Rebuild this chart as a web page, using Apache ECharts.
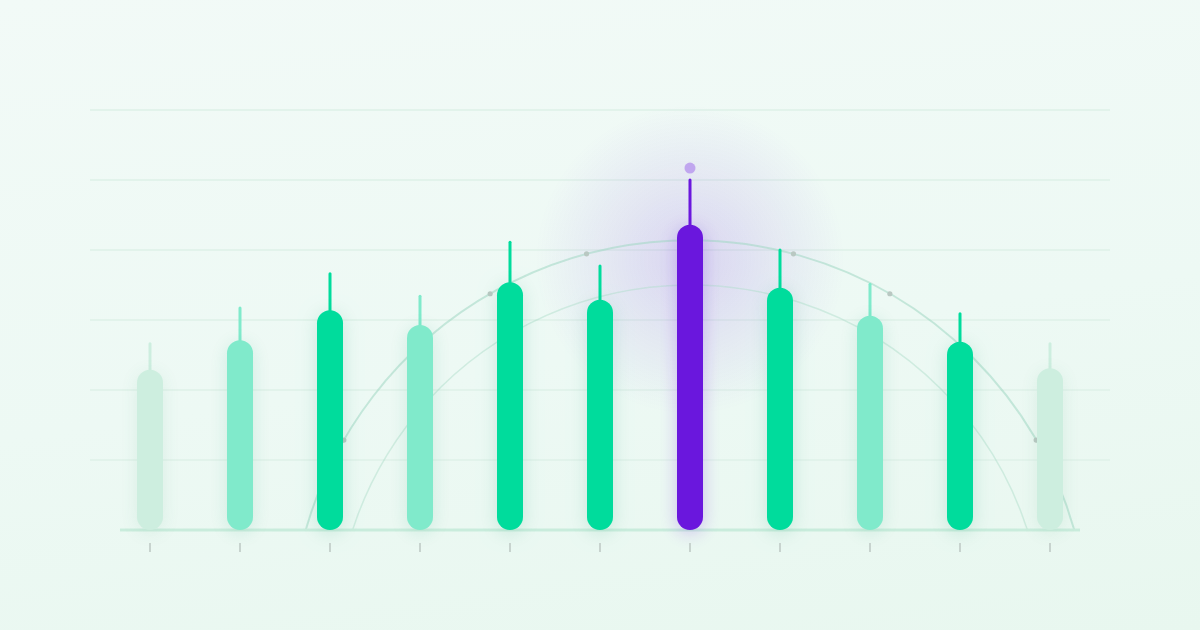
<!DOCTYPE html>
<html><head><meta charset="utf-8">
<style>
html,body{margin:0;padding:0;width:1200px;height:630px;overflow:hidden;background:linear-gradient(172deg,#f2faf7 0%,#edf9f4 55%,#e8f7ef 100%);}
#c{width:1200px;height:630px;}
</style>
<script src="https://cdn.jsdelivr.net/npm/echarts@6/dist/echarts.min.js"></script>
</head><body><div id="c"></div>
<script>
// ---- data ----
const categories = ['1','2','3','4','5','6','7','8','9','10','11'];
const bodyTop = [22.9, 27.1, 31.4, 29.3, 35.4, 32.9, 43.6, 34.6, 30.6, 26.9, 23.1];
const wickTop = [26.6, 31.7, 36.6, 33.4, 41.1, 37.7, 50.0, 40.0, 35.1, 30.9, 26.6];
const barLevel = [0, 1, 2, 1, 2, 2, 3, 2, 1, 2, 0];
const peakPoint = [6, 51.7];
const yTicks = [0, 10, 20, 30, 40, 50, 60];

// ---- style ----
const levelColors = ['#cdeedf', '#80eacb', '#00dc9c', '#6a17dd'];
const levelShadow = ['rgba(60,150,110,0.10)', 'rgba(20,150,110,0.14)', 'rgba(0,140,100,0.16)', 'rgba(106,23,221,0.25)'];

const chart = echarts.init(document.getElementById('c'), null, {renderer: 'canvas'});

const barData = categories.map((c, i) => [i, bodyTop[i], wickTop[i], barLevel[i]]);

function renderBar(params, api) {
  const i = api.value(0);
  const lvl = api.value(3);
  const base = api.coord([i, 0]);
  const top = api.coord([i, api.value(1)]);
  const wick = api.coord([i, api.value(2)]);
  const w = 26;
  const col = levelColors[lvl];
  return {
    type: 'group',
    children: [
      {type: 'line', shape: {x1: top[0], y1: top[1] + 6, x2: wick[0], y2: wick[1]},
       style: {stroke: col, lineWidth: 3, lineCap: 'round'}},
      {type: 'rect', shape: {x: base[0] - w / 2, y: top[1], width: w, height: base[1] - top[1], r: w / 2},
       style: {fill: col, shadowBlur: 18, shadowColor: levelShadow[lvl], shadowOffsetY: 3}},
      {type: 'line', shape: {x1: base[0], y1: base[1] + 13, x2: base[0], y2: base[1] + 22},
       style: {stroke: '#c7d3ce', lineWidth: 2}}
    ]
  };
}

function renderGlow(params, api) {
  const i = api.value(0);
  const top = api.coord([i, api.value(1)]);
  const r = 155;
  return {
    type: 'circle',
    shape: {cx: top[0], cy: top[1] + 35, r: r},
    style: {
      fill: {type: 'radial', x: 0.5, y: 0.5, r: 0.5, colorStops: [
        {offset: 0, color: 'rgba(106,23,221,0.16)'},
        {offset: 0.5, color: 'rgba(106,23,221,0.08)'},
        {offset: 1, color: 'rgba(106,23,221,0)'}
      ]}
    }
  };
}

function renderArcs(params, api) {
  const c = api.coord([api.value(0), api.value(1)]);
  const base = api.coord([api.value(0), 0]);
  const radii = [api.value(2), api.value(3)];
  const children = [];
  const styles = [
    {stroke: 'rgba(160,215,195,0.55)', lineWidth: 2},
    {stroke: 'rgba(170,220,200,0.45)', lineWidth: 1.5}
  ];
  radii.forEach((rv, k) => {
    const r = api.size([0, rv])[1];
    const a = Math.asin((c[1] - base[1]) / r);
    children.push({type: 'arc', shape: {cx: c[0], cy: c[1], r: r, startAngle: Math.PI + a, endAngle: 2 * Math.PI - a, clockwise: true},
      style: Object.assign({fill: null}, styles[k])});
  });
  const rOuter = api.size([0, radii[0]])[1];
  [-60, -30, -15, 15, 30, 60].forEach(d => {
    const t = d * Math.PI / 180;
    children.push({type: 'circle', shape: {cx: c[0] + rOuter * Math.sin(t), cy: c[1] - rOuter * Math.cos(t), r: 2.6},
      style: {fill: '#b9c8c2'}});
  });
  return {type: 'group', children: children};
}

function renderBaseline(params, api) {
  const a = api.coord([api.value(0), 0]);
  const b = api.coord([api.value(1), 0]);
  return {type: 'line', shape: {x1: a[0], y1: a[1], x2: b[0], y2: b[1]},
    style: {stroke: '#c9ecdc', lineWidth: 3}};
}

chart.setOption({
  animation: false,
  backgroundColor: 'transparent',
  grid: {left: 90, right: 90, top: 110, bottom: 100},
  xAxis: {type: 'value', min: -2 / 3, max: 32 / 3, show: false},
  yAxis: {
    type: 'value', min: yTicks[0], max: yTicks[yTicks.length - 1], interval: 10,
    axisLine: {show: false}, axisTick: {show: false}, axisLabel: {show: false},
    splitLine: {show: true, showMinLine: false, lineStyle: {color: '#e2f3eb', width: 2}}
  },
  series: [
    {type: 'custom', name: 'glow', z: 1, renderItem: renderGlow, data: [[peakPoint[0], bodyTop[peakPoint[0]]]], silent: true},
    {type: 'custom', name: 'arcs', z: 2, renderItem: renderArcs, data: [[6, -15.7, 57.1, 50.7]], silent: true, clip: false},
    {type: 'custom', name: 'baseline', z: 3, renderItem: renderBaseline, data: [[-1 / 3, 31 / 3]], silent: true, clip: false},
    {type: 'custom', name: 'bars', z: 4, renderItem: renderBar, data: barData, clip: false},
    {type: 'scatter', name: 'peak', z: 5, data: [peakPoint], symbolSize: 11, itemStyle: {color: '#b795ee'}}
  ]
});
</script></body></html>
